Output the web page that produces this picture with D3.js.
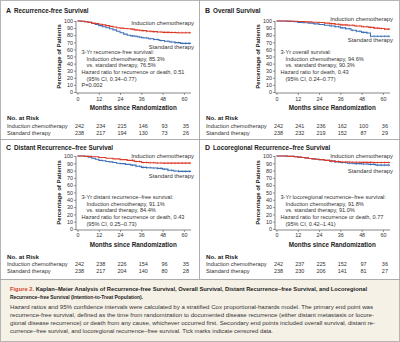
<!DOCTYPE html>
<html><head><meta charset="utf-8">
<script src="https://cdn.jsdelivr.net/npm/d3@7"></script>
<style>
html,body{margin:0;padding:0;background:#fff;}
svg{display:block;}
text{font-family:'Liberation Sans Narrow','Liberation Sans',Arial,sans-serif;fill:#333;}
</style></head>
<body><svg id="c" width="400" height="342"></svg>
<script>
// ---------- DATA ----------
const monthTicks = [0, 12, 24, 36, 48, 60];
const pctTicks = [0, 10, 20, 30, 40, 50, 60, 70, 80, 90, 100];
const seriesNames = ["Induction chemotherapy", "Standard therapy"];

// A: Recurrence-free survival
const rfsIndT = [0,2,4,6,8,10,12,14,16,18,20,22,24,26,28,30,32,34,36,39,42,45,48,52,56,64];
const rfsIndS = [100,99.6,99,98,97,96.5,95.5,94.5,93.5,92.5,91.5,90.5,90,89.5,89,88.5,87.5,87,86.5,85.5,85,84.5,84,83.8,83.5,83.5];
const rfsStdT = [0,2,4,6,8,10,12,14,16,18,20,22,24,26,28,30,32,34,36,38,40,43,46,49,52,55,58,64];
const rfsStdS = [100,99.6,99,98,96.5,95,93.5,92,90.5,89,87.5,85.5,83.5,81.5,80,79,78.5,77.5,76.5,76,75,74,72.5,71.5,70.5,69.5,68.5,68.5];
// B: Overall survival
const osIndT = [0,8,12,16,20,24,27,30,33,36,40,44,48,52,55,58,61,64];
const osIndS = [100,99.6,99.2,98.8,98.3,97.8,97,96.3,95.5,94.6,94,93,92,91,90,89.5,88.5,88.5];
const osStdT = [0,6,10,12,15,18,21,24,27,30,33,36,39,42,45,48,51,53,64];
const osStdS = [100,99.5,99,98,97.5,97,96,95,94,93,92,90.3,89,87,85.5,84,83,78.5,78.5];
// C: Distant recurrence-free survival
const dmIndT = [0,4,8,12,16,20,24,28,32,36,40,44,48,64];
const dmIndS = [100,99.5,99,98,97,96,95,94,92.5,91.1,90.8,90.5,90.3,90.3];
const dmStdT = [0,4,6,8,10,12,14,16,18,20,22,24,27,30,33,36,39,42,45,48,51,54,57,64];
const dmStdS = [100,99.5,98.5,97,95.5,94,93.5,92.5,92,91,90,89.5,88.5,87.5,86,84.4,84,83.5,83,82,80.5,79.5,79,79];
// D: Locoregional recurrence-free survival
const lrIndT = [0,6,10,12,14,16,18,20,22,24,27,30,33,36,42,48,54,64];
const lrIndS = [100,99.5,99,98.5,98,97.5,96.5,96,95.5,95,94,93,92.5,91.8,91.5,91.2,91,91];
const lrStdT = [0,6,10,12,14,16,18,20,22,24,27,30,33,36,40,44,48,52,56,64];
const lrStdS = [100,99.5,99,98.5,98,97.5,96.5,96,95.5,95,94,93,92,91,90,89.5,89,88.5,87.5,87.5];

const censorTimes = [31,33,35,37,39,41,43,45,47,49,51,53,55,57,59,61,63];

// Numbers at risk
const riskRfsInd = [242,234,215,146,93,35];
const riskRfsStd = [238,217,194,130,73,26];
const riskOsInd = [242,241,236,162,100,36];
const riskOsStd = [238,232,219,152,87,29];
const riskDmInd = [242,238,226,154,96,35];
const riskDmStd = [238,217,204,140,80,28];
const riskLrInd = [242,237,225,152,97,36];
const riskLrStd = [238,230,206,141,81,27];

const panelLetters = ["A","B","C","D"];
const panelTitles = ["Recurrence-free Survival","Overall Survival","Distant Recurrence–free Survival","Locoregional Recurrence–free Survival"];
const annotA = ["3-Yr recurrence-free survival:","Induction chemotherapy, 85.3%","vs. standard therapy, 76.5%","Hazard ratio for recurrence or death, 0.51","(95% CI, 0.34–0.77)","P=0.002"];
const annotB = ["3-Yr overall survival:","Induction chemotherapy, 94.6%","vs. standard therapy, 90.3%","Hazard ratio for death, 0.43","(95% CI, 0.24–0.77)"];
const annotC = ["3-Yr distant recurrence–free survival:","Induction chemotherapy, 91.1%","vs. standard therapy, 84.4%","Hazard ratio for recurrence or death, 0.43","(95% CI, 0.25–0.73)"];
const annotD = ["3-Yr locoregional recurrence–free survival:","Induction chemotherapy, 91.8%","vs. standard therapy, 91.0%","Hazard ratio for recurrence or death, 0.77","(95% CI, 0.42–1.41)"];
const annotIndent = [false,true,true,false,true,false];

const captionTitle1 = "Kaplan–Meier Analysis of Recurrence-free Survival, Overall Survival, Distant Recurrence–free Survival, and Locoregional";
const captionTitle2 = "Recurrence–free Survival (Intention-to-Treat Population).";
const captionBody = [
 "Hazard ratios and 95% confidence intervals were calculated by a stratified Cox proportional-hazards model. The primary end point was",
 "recurrence-free survival, defined as the time from randomization to documented disease recurrence (either distant metastasis or locore-",
 "gional disease recurrence) or death from any cause, whichever occurred first. Secondary end points included overall survival, distant re-",
 "currence–free survival, and locoregional recurrence–free survival. Tick marks indicate censored data."
];

// ---------- BUILD ----------
const RED = "#dc3b2a", BLUE = "#3d6fb6";
const svg = d3.select("#c");
svg.append("rect").attr("x",0.5).attr("y",0.5).attr("width",399).attr("height",341).attr("fill","#fff").attr("stroke","#b5b5b5");
svg.append("rect").attr("x",1).attr("y",279).attr("width",398).attr("height",62).attr("fill","#f6f1e7");
svg.append("line").attr("x1",0).attr("x2",400).attr("y1",139.5).attr("y2",139.5).attr("stroke","#9a9a9a").attr("stroke-width",0.8);
svg.append("line").attr("x1",0).attr("x2",400).attr("y1",279.5).attr("y2",279.5).attr("stroke","#9a9a9a").attr("stroke-width",0.8);
svg.append("line").attr("x1",199.5).attr("x2",199.5).attr("y1",0).attr("y2",279).attr("stroke","#9a9a9a").attr("stroke-width",0.8);

const panels = [
 {ind:[rfsIndT,rfsIndS], std:[rfsStdT,rfsStdS], risk:[riskRfsInd,riskRfsStd], annot:annotA},
 {ind:[osIndT,osIndS], std:[osStdT,osStdS], risk:[riskOsInd,riskOsStd], annot:annotB},
 {ind:[dmIndT,dmIndS], std:[dmStdT,dmStdS], risk:[riskDmInd,riskDmStd], annot:annotC},
 {ind:[lrIndT,lrIndS], std:[lrStdT,lrStdS], risk:[riskLrInd,riskLrStd], annot:annotD}
];
const rows = [
 {title:10.5, top:21, bot:92, tickLab:99, xlab:108, riskHead:118, r1:126, r2:133, annotTop:52},
 {title:148, top:156, bot:229, tickLab:235.5, xlab:244.5, riskHead:257, r1:264, r2:271, annotTop:197}
];
const rowLabelOverrides = [[23,47],[19,40],[156,176],[156,171]];

panels.forEach((p, i) => {
  const ox = (i % 2) * 199;
  const L = rows[Math.floor(i / 2)];
  const g = svg.append("g").attr("transform", `translate(${ox},0)`);
  const x = d3.scaleLinear().domain([0, 64]).range([77.5, 191]);
  const y = d3.scaleLinear().domain([0, 100]).range([L.bot, L.top]);

  g.append("text").attr("x",6).attr("y",L.title).attr("dy","0.35em").attr("font-size",7).attr("font-weight","bold").style("fill","#222").text(panelLetters[i]);
  g.append("text").attr("x",14).attr("y",L.title).attr("dy","0.35em").attr("font-size",6.3).attr("font-weight","bold").style("fill","#222").text(panelTitles[i]);

  // axes
  const yAxis = d3.axisLeft(y).tickValues(pctTicks).tickSize(2).tickPadding(1);
  const ya = g.append("g").attr("transform",`translate(${x(0)-1.5},0)`).call(yAxis);
  const xAxis = d3.axisBottom(x).tickValues(monthTicks).tickSize(2).tickPadding(2);
  const xa = g.append("g").attr("transform",`translate(0,${L.bot+1})`).call(xAxis);
  [ya, xa].forEach(a => {
    a.select(".domain").attr("stroke","#555").attr("stroke-width",0.7);
    a.selectAll(".tick line").attr("stroke","#555").attr("stroke-width",0.6);
    a.selectAll("text").attr("font-size",5.4).style("fill","#333").attr("font-family",null);
  });
  xa.select(".domain").attr("d", `M${x(0)-1.5},0H${x(64)}`);
  ya.select(".domain").attr("d", `M0,${y(100)}V${L.bot+1}`);
  xa.selectAll(".tick text").attr("y", L.tickLab - L.bot - 1).attr("dy","0.35em");

  g.append("text").attr("transform",`translate(58.5,${(L.top+L.bot)/2}) rotate(-90)`).attr("dy","0.35em").attr("text-anchor","middle")
    .attr("font-size",6).attr("font-weight","bold").style("fill","#222").text("Percentage of Patients");
  g.append("text").attr("x",(x(0)+x(64))/2 - 1).attr("y",L.xlab).attr("dy","0.35em").attr("text-anchor","middle")
    .attr("font-size",6.3).attr("font-weight","bold").style("fill","#222").text("Months since Randomization");

  // curves
  const line = d3.line().x(d => x(d[0])).y(d => y(d[1])).curve(d3.curveStepAfter);
  const stepAt = (T, S, t) => { let v = S[0]; for (let k = 0; k < T.length; k++) { if (T[k] <= t) v = S[k]; } return v; };
  [[p.std, BLUE], [p.ind, RED]].forEach(([ser, col]) => {
    const pts = ser[0].map((t, k) => [t, ser[1][k]]);
    g.append("path").datum(pts).attr("d", line).attr("fill","none").attr("stroke",col).attr("stroke-width",1.1);
    g.selectAll(null).data(censorTimes).join("line")
      .attr("x1", t => x(t)).attr("x2", t => x(t))
      .attr("y1", t => y(stepAt(ser[0], ser[1], t)) - 1.2).attr("y2", t => y(stepAt(ser[0], ser[1], t)) + 1.2)
      .attr("stroke", col).attr("stroke-width", 0.5);
  });

  // curve labels
  const lo = rowLabelOverrides[i];
  g.append("text").attr("x",194).attr("y",lo[0]).attr("dy","0.35em").attr("text-anchor","end").attr("font-size",5.9).text(seriesNames[0]);
  g.append("text").attr("x",194).attr("y",lo[1]).attr("dy","0.35em").attr("text-anchor","end").attr("font-size",5.9).text(seriesNames[1]);

  // annotation
  p.annot.forEach((s, k) => {
    g.append("text").attr("x", annotIndent[k] ? 86.5 : 81.5).attr("y", L.annotTop + k * 6.7).attr("dy","0.35em")
      .attr("font-size",5.6).text(s);
  });

  // numbers at risk
  g.append("text").attr("x",7).attr("y",L.riskHead).attr("dy","0.35em").attr("font-size",6.2).attr("font-weight","bold").style("fill","#222").text("No. at Risk");
  [L.r1, L.r2].forEach((ry, r) => {
    g.append("text").attr("x",7).attr("y",ry).attr("dy","0.35em").attr("font-size",5.7).text(seriesNames[r]);
    g.selectAll(null).data(p.risk[r]).join("text")
      .attr("x", (d, k) => x(monthTicks[k]) + 2).attr("y", ry).attr("dy","0.35em").attr("text-anchor","middle")
      .attr("font-size",5.5).text(d => d);
  });
});

// caption
const cap = svg.append("g");
const t1 = cap.append("text").attr("x",10).attr("y",289).attr("dy","0.35em").attr("font-size",6.2).attr("font-weight","bold")
  .attr("textLength",357).attr("lengthAdjust","spacingAndGlyphs");
t1.append("tspan").style("fill","#d2452b").text("Figure 2. ");
t1.append("tspan").style("fill","#222").text(captionTitle1);
cap.append("text").attr("x",10).attr("y",297).attr("dy","0.35em").attr("font-size",6.2).attr("font-weight","bold").style("fill","#222")
  .attr("textLength",133).attr("lengthAdjust","spacingAndGlyphs").text(captionTitle2);
const bodyLens = [363, 364, 365, 263];
captionBody.forEach((s, k) => {
  cap.append("text").attr("x",10).attr("y",306.5 + k * 8).attr("dy","0.35em").attr("font-size",6).style("fill","#333")
    .attr("textLength", bodyLens[k]).attr("lengthAdjust","spacingAndGlyphs").text(s);
});
</script></body></html>
